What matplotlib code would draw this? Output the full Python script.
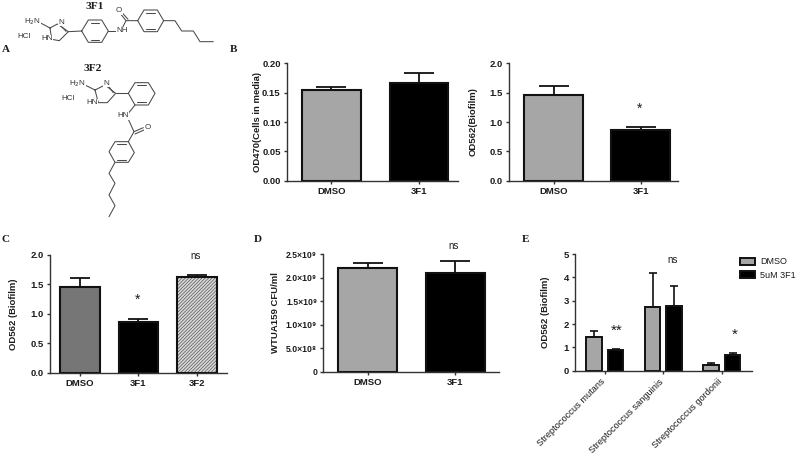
import matplotlib
matplotlib.use("Agg")
import matplotlib.pyplot as plt
from matplotlib.transforms import ScaledTranslation
import numpy as np

plt.rcParams['font.family'] = ['Liberation Sans', 'DejaVu Sans']
plt.rcParams['hatch.linewidth'] = 0.45

W, H = 798, 457

# Panel B
b_labels = ['DMSO', '3F1']
b1_means = [0.155, 0.167]
b1_errs = [0.005, 0.017]
b1_ticks = [0.00, 0.05, 0.10, 0.15, 0.20]
b2_means = [1.46, 0.87]
b2_errs = [0.15, 0.05]
b2_ticks = [0.0, 0.5, 1.0, 1.5, 2.0]

# Panel C
c_labels = ['DMSO', '3F1', '3F2']
c_means = [1.46, 0.87, 1.62]
c_errs = [0.15, 0.05, 0.04]

# Panel D
d_labels = ['DMSO', '3F1']
d_means = [2.2e9, 2.1e9]
d_errs = [0.11e9, 0.25e9]
d_ticks = [0, 0.5e9, 1.0e9, 1.5e9, 2.0e9, 2.5e9]
d_ticklabels = ['0', '5.0×10⁸', '1.0×10⁹', '1.5×10⁹', '2.0×10⁹', '2.5×10⁹']

# Panel E
e_species = ['Streptococcus mutans', 'Streptococcus sanguinis', 'Streptococcus gordonii']
e_dmso = [1.45, 2.72, 0.25]
e_dmso_err = [0.27, 1.46, 0.07]
e_3f1 = [0.87, 2.78, 0.67]
e_3f1_err = [0.06, 0.84, 0.09]
e_ticks = [0, 1, 2, 3, 4, 5]

INK = '#1c1c1c'
LIGHT = '#a6a6a6'
DARK = '#767676'

fig = plt.figure(figsize=(W / 100, H / 100), dpi=100)


def make_axes(left, right, top, bottom):
    ax = fig.add_axes([left / W, 1 - bottom / H, (right - left) / W, (bottom - top) / H])
    ax.spines['top'].set_visible(False)
    ax.spines['right'].set_visible(False)
    ax.spines['left'].set_linewidth(1.0)
    ax.spines['bottom'].set_linewidth(1.0)
    ax.spines['left'].set_color('#333333')
    ax.spines['bottom'].set_color('#333333')
    ax.patch.set_alpha(0)
    ax.tick_params(length=2.5, width=1.0, labelsize=6.8, pad=2, color='#333333', labelcolor=INK)
    return ax


def place_ylabel(ax, text, xpix, left, right):
    ax.set_ylabel(text, fontsize=6.8, fontweight='bold', color=INK, va='center')
    ax.yaxis.set_label_coords((xpix - left) / (right - left), 0.5)


def bar_panel(ax, labels, means, errs, ticks, xlim, colors, capsize, hatches=None, width=0.67):
    x = np.arange(len(labels))
    for i in x:
        if hatches and hatches[i]:
            ax.bar(i, means[i], width=width, color=colors[i], edgecolor='#4a4a4a', linewidth=0, hatch=hatches[i])
            ax.bar(i, means[i], width=width, fill=False, edgecolor='#111111', linewidth=1.5)
        else:
            ax.bar(i, means[i], width=width, color=colors[i], edgecolor='#111111', linewidth=1.5)
        ax.errorbar(i, means[i], yerr=[[0], [errs[i]]], color='#111111', elinewidth=1.3,
                    capsize=capsize, capthick=1.3)
    ax.set_xlim(xlim)
    ax.set_ylim(ticks[0], ticks[-1])
    ax.set_xticks(x)
    ax.set_xticklabels(labels, fontweight='bold')
    ax.set_yticks(ticks)


# B left
ax = make_axes(287, 457.7, 63.3, 180.7)
bar_panel(ax, b_labels, b1_means, b1_errs, b1_ticks, (-0.503, 1.44), [LIGHT, 'black'], 10.8)
ax.set_yticklabels([f'{t:.2f}' for t in b1_ticks], fontweight='bold')
place_ylabel(ax, 'OD470(Cells in media)', 258, 287, 457.7)

# B right
ax = make_axes(508.7, 678, 63.3, 180.7)
bar_panel(ax, b_labels, b2_means, b2_errs, b2_ticks, (-0.515, 1.43), [LIGHT, 'black'], 10.8)
ax.set_yticklabels([f'{t:.1f}' for t in b2_ticks], fontweight='bold')
place_ylabel(ax, 'OD562(Biofilm)', 473, 508.7, 678)

# C
ax = make_axes(50, 226.7, 255, 372.7)
bar_panel(ax, c_labels, c_means, c_errs, b2_ticks, (-0.508, 2.51), [DARK, 'black', '#d8d8d8'], 7.2,
          hatches=[None, None, '//////////'], width=0.675)
ax.set_yticklabels([f'{t:.1f}' for t in b2_ticks], fontweight='bold')
place_ylabel(ax, 'OD562 (Biofilm)', 13, 50, 226.7)

# D
ax = make_axes(323.3, 499.3, 254.3, 371.7)
bar_panel(ax, d_labels, d_means, d_errs, d_ticks, (-0.506, 1.5), [LIGHT, 'black'], 10.5)
ax.set_yticklabels(d_ticklabels, fontweight='bold', fontsize=6.2)
place_ylabel(ax, 'WTUA159 CFU/ml', 275, 323.3, 499.3)

# E
ax = make_axes(575, 751.7, 254, 370.7)
xe = np.arange(len(e_species))
off = 0.183
bw = 0.263
ax.bar(xe - off, e_dmso, width=bw, color=LIGHT, edgecolor='#111111', linewidth=1.4, label='DMSO')
ax.bar(xe + off, e_3f1, width=bw, color='black', edgecolor='#111111', linewidth=1.4, label='5uM 3F1')
for i in xe:
    ax.errorbar(i - off, e_dmso[i], yerr=[[0], [e_dmso_err[i]]], color='#111111', elinewidth=1.2, capsize=2.8, capthick=1.2)
    ax.errorbar(i + off, e_3f1[i], yerr=[[0], [e_3f1_err[i]]], color='#111111', elinewidth=1.2, capsize=2.8, capthick=1.2)
ax.set_xlim(-0.51, 2.51)
ax.set_ylim(0, 5)
ax.set_yticks(e_ticks)
ax.set_yticklabels(e_ticks, fontweight='bold')
ax.set_xticks(xe)
ax.set_xticklabels(e_species, rotation=45, ha='right', rotation_mode='anchor', fontsize=6.7)
# rotated names end a little left of their ticks
for tl in ax.get_xticklabels():
    tl.set_transform(tl.get_transform() + ScaledTranslation(-4 / 100, 0, fig.dpi_scale_trans))
place_ylabel(ax, 'OD562 (Biofilm)', 545.7, 575, 751.7)
ax.legend(loc='upper left', bbox_to_anchor=(740 / W, 1 - 257.5 / H), bbox_transform=fig.transFigure, frameon=False,
          fontsize=6.5, handlelength=1.7, handleheight=0.8, handletextpad=0.5, labelspacing=0.5, borderpad=0, borderaxespad=0,
          labelcolor=INK)

# overlay in picture pixels for the letters, significance marks and the two structures
ov = fig.add_axes([0, 0, 1, 1], zorder=5)
ov.set_xlim(0, W)
ov.set_ylim(H, 0)
ov.axis('off')

for letter, px, py in [('A', 6, 50), ('B', 233, 50), ('C', 5, 239), ('D', 258, 240), ('E', 526, 240)]:
    ov.text(px, py, letter, family='Liberation Serif', fontweight='bold', fontsize=8, ha='center', va='center', color=INK)

for txt, px, py, size in [('ns', 196, 256, 7), ('ns', 454, 246, 7), ('ns', 673, 260, 7),
                          ('*', 138, 300, 10), ('*', 640, 109, 10), ('**', 617, 331, 11), ('*', 735, 335, 11)]:
    ov.text(px, py, txt, fontsize=size, ha='center', va='center', color=INK)


def chain(points, lw=0.75):
    pts = np.array(points, dtype=float) / 3
    ov.plot(pts[:, 0], pts[:, 1], color='#4a4a4a', lw=lw, solid_capstyle='round')


def label(txt, px, py, size=5.8):
    ov.text(px / 3, py / 3, txt, fontsize=size, ha='center', va='center', color='#333333',
            bbox=dict(facecolor='white', edgecolor='none', pad=0.3))


# 3F1
ov.text(285 / 3, 20 / 3, '3F1', family='Liberation Serif', fontweight='bold', fontsize=8.2, ha='center', va='center', color=INK)
chain([(120, 68), (150, 84), (172, 72), (205, 95), (178, 122), (155, 118), (150, 84)])
chain([(185, 80), (198, 94)])
chain([(205, 95), (245, 93)])
chain([(245, 93), (265, 60), (305, 60), (325, 93), (305, 127), (265, 127), (245, 93)])
chain([(272, 68), (298, 68)])
chain([(272, 119), (298, 119)])
chain([(325, 93), (350, 93)])
chain([(368, 82), (378, 62), (413, 62)])
chain([(378, 62), (362, 42)])
chain([(384, 58), (368, 40)])
chain([(413, 62), (432, 30), (472, 30), (491, 62), (472, 95), (432, 95), (413, 62)])
chain([(439, 38), (465, 38)])
chain([(439, 87), (465, 87)])
chain([(491, 62), (525, 62), (545, 93), (580, 93), (600, 125), (640, 125)])
label('H$_2$N', 97, 65)
label('N', 183, 67)
label('HN', 140, 116)
label('HCl', 72, 110)
label('O', 357, 33)
label('NH', 367, 92)

# 3F2
ov.text(277 / 3, 205 / 3, '3F2', family='Liberation Serif', fontweight='bold', fontsize=8.2, ha='center', va='center', color=INK)
chain([(255, 255), (285, 270), (315, 255), (347, 280), (322, 308), (295, 308), (285, 270)])
chain([(328, 262), (340, 278)])
chain([(347, 280), (385, 280)])
chain([(385, 280), (405, 248), (445, 248), (465, 280), (445, 315), (405, 315), (385, 280)])
chain([(412, 256), (438, 256)])
chain([(412, 307), (438, 307)])
chain([(405, 315), (385, 340)])
chain([(385, 358), (402, 395), (385, 425)])
chain([(402, 395), (430, 383)])
chain([(405, 402), (432, 390)])
chain([(385, 425), (403, 458), (385, 487), (345, 487), (327, 455), (345, 425), (385, 425)])
chain([(352, 433), (378, 433)])
chain([(352, 479), (378, 479)])
chain([(345, 487), (327, 520), (345, 550), (327, 585), (345, 617), (327, 650)])
label('H$_2$N', 232, 250)
label('N', 318, 250)
label('HN', 275, 308)
label('HCl', 204, 297)
label('HN', 368, 347)
label('O', 443, 383)

fig.savefig('out.png', dpi=100)
